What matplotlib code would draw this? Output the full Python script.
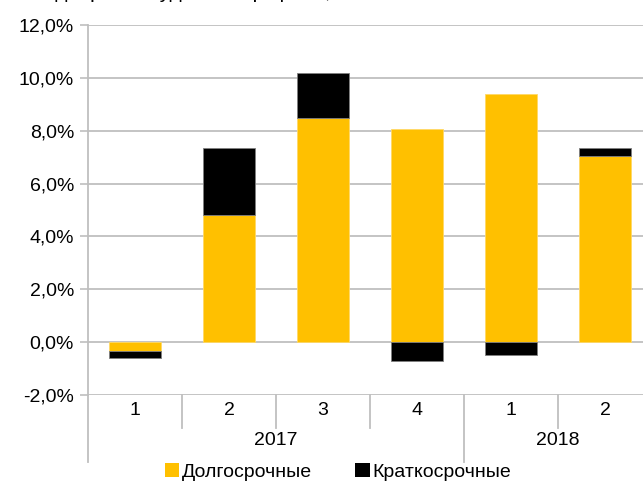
import matplotlib
matplotlib.use('Agg')
import matplotlib.pyplot as plt
import matplotlib.transforms as mtransforms
from matplotlib.patches import Patch

plt.rcParams['font.family'] = ['Liberation Sans', 'DejaVu Sans']

kvartaly = ['1', '2', '3', '4', '1', '2']
gody = ['2017', '2018']
kvartalov_v_gode = [4, 2]
dolgosrochnye = [-0.34, 4.82, 8.47, 8.05, 9.38, 7.04]
kratkosrochnye = [-0.26, 2.53, 1.71, -0.72, -0.48, 0.30]

zhelty = '#ffc000'
cherny = '#000000'
seryi = '#bfbfbf'

fig = plt.figure(figsize=(6.43, 4.86), dpi=100)
# область графика чуть шире картинки, как в оригинале (обрезано справа)
ax = fig.add_axes([88 / 643, 91 / 486, 564 / 643, 370 / 486])

x = list(range(len(kvartaly)))
niz_kr = [d if (d >= 0) == (k >= 0) else 0 for d, k in zip(dolgosrochnye, kratkosrochnye)]
ax.bar(x, dolgosrochnye, width=0.55, color=zhelty, edgecolor='#ffd966', linewidth=0.6, zorder=3)
ax.bar(x, kratkosrochnye, width=0.55, bottom=niz_kr, color=cherny, edgecolor='#7f7f7f',
       linewidth=0.6, zorder=3)

ax.set_xlim(-0.5, len(kvartaly) - 0.5)
ax.set_ylim(-2, 12)
yt = [-2, 0, 2, 4, 6, 8, 10, 12]
ax.set_yticks(yt)
ax.set_yticklabels([f'{v:.1f}%'.replace('.', ',') for v in yt], fontsize=14)
ax.yaxis.grid(True, color=seryi, linewidth=1.3, zorder=0)
ax.tick_params(axis='y', length=6, width=1.2, color=seryi, pad=4)
ax.set_xticks([])

for s in ['top', 'right', 'bottom']:
    ax.spines[s].set_visible(False)
ax.spines['left'].set_color(seryi)
ax.spines['left'].set_linewidth(1.3)

# двухуровневая ось категорий
tr = mtransforms.blended_transform_factory(ax.transData, ax.transAxes)
for i, q in enumerate(kvartaly):
    ax.text(i, -0.042, q, transform=tr, ha='center', va='center', fontsize=14)

granitsy_let = [-0.5]
for n in kvartalov_v_gode:
    granitsy_let.append(granitsy_let[-1] + n)
for i in range(len(kvartaly) - 1):
    xb = i + 0.5
    niz = -0.181 if xb in granitsy_let else -0.089
    ax.plot([xb, xb], [0, niz], transform=tr, color=seryi, lw=1.3, clip_on=False)
ax.plot([-0.5, -0.5], [0, -0.181], transform=tr, color=seryi, lw=1.3, clip_on=False)
for g, a, b in zip(gody, granitsy_let[:-1], granitsy_let[1:]):
    ax.text((a + b) / 2, -0.122, g, transform=tr, ha='center', va='center', fontsize=14)

ruchki = [Patch(facecolor=zhelty, edgecolor='none', label='Долгосрочные'),
          Patch(facecolor=cherny, edgecolor='none', label='Краткосрочные')]
fig.legend(handles=ruchki, loc='center', bbox_to_anchor=(338 / 643, 1 - 472 / 486),
           ncol=2, frameon=False, fontsize=14, handlelength=0.75, handleheight=0.75,
           handletextpad=0.15, columnspacing=2.2)

# заголовок обрезан сверху, видны только выносные элементы
fig.text(0.012, 1 + 2 / 486, 'Вклад в рост ссудного портфеля, %', fontsize=15, va='baseline')

fig.savefig('out.png', dpi=100)
